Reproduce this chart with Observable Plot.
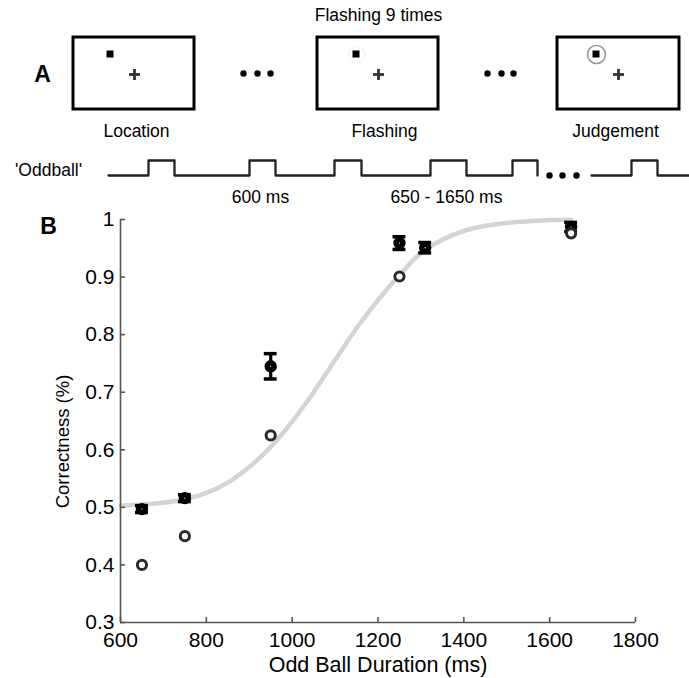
<!DOCTYPE html>
<html>
<head>
<meta charset="utf-8">
<script src="https://cdn.jsdelivr.net/npm/d3@7"></script>
<script src="https://cdn.jsdelivr.net/npm/@observablehq/plot@0.6"></script>
<style>
  body { margin: 0; background: #fff; font-family: "Liberation Sans", Arial, sans-serif; }
  #fig { width: 689px; }
  #fig svg { display: block; }
</style>
</head>
<body>
<div id="fig"></div>
<script>
// ---------- Panel B data ----------
const durations   = [650, 750, 950, 1250, 1310, 1650];
const correctMean = [0.497, 0.516, 0.745, 0.959, 0.951, 0.987];
const correctErr  = [0.006, 0.006, 0.022, 0.011, 0.009, 0.008];

const openDurations = [650, 750, 950, 1250, 1650];
const openCorrect   = [0.400, 0.450, 0.625, 0.901, 0.976];

const fitDurations = [600, 650, 700, 750, 800, 850, 900, 950, 1000, 1050, 1100,
                      1150, 1200, 1250, 1300, 1350, 1400, 1450, 1500, 1550, 1600, 1650];
const fitCorrect   = [0.503, 0.505, 0.508, 0.514, 0.525, 0.543, 0.570, 0.605, 0.649, 0.700, 0.756,
                      0.811, 0.860, 0.903, 0.942, 0.965, 0.980, 0.989, 0.994, 0.997, 0.999, 0.9995];

const xTicks = [600, 800, 1000, 1200, 1400, 1600, 1800];
const yTicks = [0.3, 0.4, 0.5, 0.6, 0.7, 0.8, 0.9, 1];

const xTitle = "Odd Ball Duration (ms)";
const yTitle = "Correctness (%)";

// ---------- Panel A diagram data (schematic units) ----------
const screenNames  = ["Location", "Flashing", "Judgement"];
const screenLeft   = [73, 317, 557];
const screenRight  = [194, 438, 679];
const screenTop    = [37, 37, 37];
const screenBottom = [109, 109, 109];
const targetX = [110, 356, 596];
const targetY = [54, 54, 54];
const crossX  = [134, 378, 618];
const crossY  = [74, 74, 74];
const nameX   = [136, 384, 615];
const nameY   = [131, 131, 131];

const ellipsisX = [243, 257, 270, 487, 501, 513, 549, 562, 576];
const ellipsisY = [73, 73, 73, 73, 73, 73, 175, 175, 175];

// oddball trace: two segments, pulses as [rise, fall]
const traceStart  = [108, 591];
const traceEnd    = [537, 689];
const tracePulses = [
  [[148, 174], [249, 275], [334, 361], [430, 466], [512, 537]],
  [[631, 657]]
];
const traceLow = 175, traceHigh = 160;

const annotations = [
  {text: "Flashing 9 times", x: 378, y: 15},
  {text: "'Oddball'", x: 48, y: 170},
  {text: "600 ms", x: 260, y: 197},
  {text: "650 - 1650 ms", x: 446, y: 197}
];

// ---------- build tables ----------
const font = "'Liberation Sans', Arial, sans-serif";

const screens = screenNames.map((n, i) => ({
  name: n, l: screenLeft[i], r: screenRight[i], t: screenTop[i], b: screenBottom[i],
  tx: targetX[i], ty: targetY[i], cx: crossX[i], cy: crossY[i], nx: nameX[i], ny: nameY[i]
}));
const crossArms = screens.flatMap(s => [
  {x1: s.cx - 5.5, x2: s.cx + 5.5, y1: s.cy, y2: s.cy},
  {x1: s.cx, x2: s.cx, y1: s.cy - 5.5, y2: s.cy + 5.5}
]);
const ellipsis = ellipsisX.map((x, i) => ({x, y: ellipsisY[i]}));
const trace = [];
traceStart.forEach((st, seg) => {
  trace.push({seg, x: st, y: traceLow});
  for (const [r, f] of tracePulses[seg]) {
    trace.push({seg, x: r, y: traceLow}, {seg, x: r, y: traceHigh},
               {seg, x: f, y: traceHigh}, {seg, x: f, y: traceLow});
  }
  trace.push({seg, x: traceEnd[seg], y: traceLow});
});

const panelA = Plot.plot({
  width: 689, height: 210, margin: 0,
  x: {domain: [0, 689], range: [0, 689], axis: null},
  y: {domain: [0, 210], range: [0, 210], axis: null},
  style: {background: "white", fontFamily: font, overflow: "visible"},
  marks: [
    Plot.rect(screens, {x1: "l", x2: "r", y1: "t", y2: "b", fill: "none", stroke: "black", strokeWidth: 3}),
    Plot.dot([screens[1]], {x: "tx", y: "ty", r: 8, stroke: "#eeeeee", strokeWidth: 1.5, strokeDasharray: "2,2", fill: "none"}),
    Plot.dot([screens[2]], {x: "tx", y: "ty", r: 9, stroke: "#9a9a9a", strokeWidth: 1.6, fill: "none"}),
    Plot.rect(screens, {x1: d => d.tx - 3.5, x2: d => d.tx + 3.5, y1: d => d.ty - 3.5, y2: d => d.ty + 3.5, fill: "black"}),
    Plot.link(crossArms, {x1: "x1", x2: "x2", y1: "y1", y2: "y2", stroke: "#333", strokeWidth: 2.8}),
    Plot.dot(ellipsis, {x: "x", y: "y", r: 3.2, fill: "black"}),
    Plot.line(trace, {x: "x", y: "y", z: "seg", stroke: "#222", strokeWidth: 2.3, curve: "linear"}),
    Plot.text(screens, {x: "nx", y: "ny", text: "name", fontSize: 17.5, fill: "black"}),
    Plot.text(annotations, {x: "x", y: "y", text: "text", fontSize: 17.5, fill: "black"}),
    Plot.text(["A"], {x: () => 42, y: () => 74, text: d => d, fontSize: 23, fontWeight: "bold", fill: "black"})
  ]
});

// ---------- Panel B ----------
const black = durations.map((x, i) => ({x, y: correctMean[i], lo: correctMean[i] - correctErr[i], hi: correctMean[i] + correctErr[i]}));
const open  = openDurations.map((x, i) => ({x, y: openCorrect[i]}));
const fit   = fitDurations.map((x, i) => ({x, y: fitCorrect[i]}));

const W = 689, H = 468, mL = 120, mR = 54, mT = 9, mB = 56;
const plotW = W - mL - mR, plotH = H - mT - mB;
const axisColor = "#555";

const panelB = Plot.plot({
  width: W, height: H,
  marginLeft: mL, marginRight: mR, marginTop: mT, marginBottom: mB,
  x: {domain: [600, 1800]},
  y: {domain: [0.3, 1]},
  style: {background: "transparent", fontFamily: font, fontSize: "21px", overflow: "visible", color: "black"},
  marks: [
    Plot.line(fit, {x: "x", y: "y", stroke: "#d4d4d4", strokeWidth: 4.5, curve: "monotone-x"}),
    Plot.ruleX([600], {y1: 0.3, y2: 1, stroke: axisColor, strokeWidth: 1.6}),
    Plot.ruleY([0.3], {x1: 600, x2: 1800, stroke: axisColor, strokeWidth: 1.6}),
    Plot.tickY(yTicks, {y: d => d, insetRight: plotW - 5, stroke: axisColor, strokeWidth: 1.6}),
    Plot.tickX(xTicks, {x: d => d, insetTop: plotH - 5, stroke: axisColor, strokeWidth: 1.6}),
    Plot.axisY({ticks: yTicks, tickSize: 0, tickPadding: 6, label: null,
                tickFormat: d => d === 1 ? "1" : d.toFixed(1), fontSize: 21}),
    Plot.axisX({ticks: xTicks, tickSize: 0, tickPadding: 10, label: null,
                tickFormat: d3.format("d"), fontSize: 21}),
    Plot.ruleX(black, {x: "x", y1: "lo", y2: "hi", stroke: "black", strokeWidth: 3.2}),
    Plot.ruleY(black, {y: "lo", x1: d => d.x - 15, x2: d => d.x + 15, stroke: "black", strokeWidth: 3.5}),
    Plot.ruleY(black, {y: "hi", x1: d => d.x - 15, x2: d => d.x + 15, stroke: "black", strokeWidth: 3.5}),
    Plot.dot(black, {x: "x", y: "y", r: 3.4, stroke: "black", strokeWidth: 5.6, fill: "white"}),
    Plot.dot(open, {x: "x", y: "y", r: 4.6, stroke: "#2a2a2a", strokeWidth: 3, fill: "white"}),
    Plot.text([xTitle], {frameAnchor: "bottom", dy: 43, text: d => d, fontSize: 21.5, textAnchor: "middle", lineAnchor: "middle", fill: "black"}),
    Plot.text([yTitle], {frameAnchor: "left", dx: -57, dy: 20.5, rotate: -90, text: d => d, fontSize: 18.5, textAnchor: "middle", lineAnchor: "middle", fill: "black"}),
    Plot.text(["B"], {frameAnchor: "top-left", dx: -72, dy: 7, text: d => d, fontSize: 23, fontWeight: "bold", textAnchor: "middle", lineAnchor: "middle", fill: "black"})
  ]
});

const fig = document.getElementById("fig");
fig.appendChild(panelA);
fig.appendChild(panelB);
</script>
</body>
</html>
